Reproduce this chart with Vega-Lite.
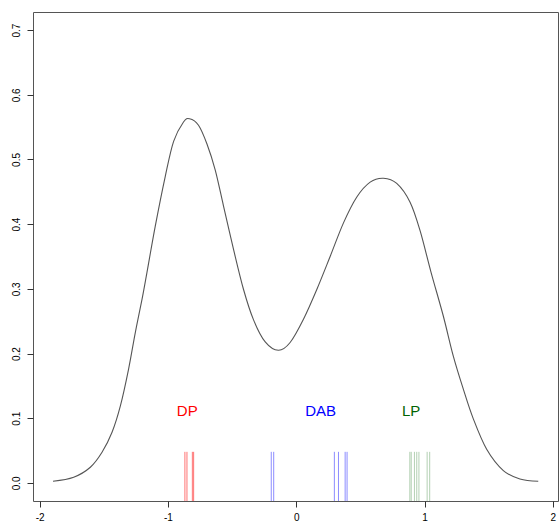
{
  "$schema": "https://vega.github.io/schema/vega-lite/v6.json",
  "width": 525,
  "height": 489,
  "autosize": {"type": "none"},
  "padding": {"left": 33, "top": 12, "right": 2, "bottom": 24},
  "background": "white",
  "config": {
    "view": {"stroke": "#555", "strokeWidth": 1},
    "font": "Liberation Sans"
  },
  "datasets": {
    "curve": [
      {"x": -1.896, "y": 0.0026}, {"x": -1.735, "y": 0.0088}, {"x": -1.605, "y": 0.0242},
      {"x": -1.514, "y": 0.0473}, {"x": -1.436, "y": 0.0782}, {"x": -1.371, "y": 0.119},
      {"x": -1.307, "y": 0.176}, {"x": -1.255, "y": 0.232}, {"x": -1.202, "y": 0.284},
      {"x": -1.164, "y": 0.325}, {"x": -1.099, "y": 0.397}, {"x": -1.021, "y": 0.474},
      {"x": -0.956, "y": 0.528}, {"x": -0.879, "y": 0.558}, {"x": -0.832, "y": 0.563},
      {"x": -0.762, "y": 0.553}, {"x": -0.696, "y": 0.524}, {"x": -0.632, "y": 0.484},
      {"x": -0.567, "y": 0.428}, {"x": -0.489, "y": 0.361}, {"x": -0.411, "y": 0.299},
      {"x": -0.333, "y": 0.252}, {"x": -0.242, "y": 0.218}, {"x": -0.139, "y": 0.205},
      {"x": -0.048, "y": 0.217}, {"x": 0.056, "y": 0.253}, {"x": 0.16, "y": 0.299},
      {"x": 0.264, "y": 0.35}, {"x": 0.368, "y": 0.402}, {"x": 0.472, "y": 0.442},
      {"x": 0.576, "y": 0.465}, {"x": 0.679, "y": 0.471}, {"x": 0.783, "y": 0.463},
      {"x": 0.887, "y": 0.434}, {"x": 0.965, "y": 0.39}, {"x": 1.05, "y": 0.326},
      {"x": 1.146, "y": 0.258}, {"x": 1.224, "y": 0.196},
      {"x": 1.302, "y": 0.145}, {"x": 1.38, "y": 0.099}, {"x": 1.484, "y": 0.052},
      {"x": 1.614, "y": 0.019}, {"x": 1.743, "y": 0.006}, {"x": 1.886, "y": 0.0026}
    ],
    "rug": [
      {"x": -0.868, "group": "DP"}, {"x": -0.852, "group": "DP"}, {"x": -0.81, "group": "DP"}, {"x": -0.8, "group": "DP"},
      {"x": -0.195, "group": "DAB"}, {"x": -0.176, "group": "DAB"}, {"x": 0.297, "group": "DAB"}, {"x": 0.329, "group": "DAB"},
      {"x": 0.381, "group": "DAB"}, {"x": 0.396, "group": "DAB"},
      {"x": 0.885, "group": "LP"}, {"x": 0.896, "group": "LP"}, {"x": 0.921, "group": "LP"}, {"x": 0.939, "group": "LP"},
      {"x": 0.956, "group": "LP"}, {"x": 1.02, "group": "LP"}, {"x": 1.04, "group": "LP"}
    ],
    "labels": [
      {"x": -0.85, "y": 0.111, "group": "DP"},
      {"x": 0.19, "y": 0.111, "group": "DAB"},
      {"x": 0.895, "y": 0.111, "group": "LP"}
    ]
  },
  "layer": [
    {
      "mark": {"type": "rule", "color": "#eeeeee", "strokeWidth": 1},
      "encoding": {"y": {"datum": 0, "type": "quantitative", "scale": {"domain": [-0.028, 0.728], "nice": false, "zero": false}}}
    },
    {
      "data": {"name": "rug"},
      "mark": {"type": "rule", "strokeWidth": 1},
      "encoding": {
        "x": {"field": "x", "type": "quantitative"},
        "y": {"datum": -0.028, "type": "quantitative"},
        "y2": {"datum": 0.048},
        "color": {"field": "group", "type": "nominal", "legend": null,
          "scale": {"domain": ["DP", "DAB", "LP"], "range": ["rgba(255,0,0,0.55)", "rgba(0,0,255,0.45)", "rgba(0,100,0,0.3)"]}}
      }
    },
    {
      "data": {"name": "curve"},
      "mark": {"type": "line", "color": "#555555", "strokeWidth": 1.1, "interpolate": "cardinal"},
      "encoding": {
        "x": {"field": "x", "type": "quantitative",
          "scale": {"domain": [-2.052, 2.04], "nice": false, "zero": false},
          "axis": {"title": null, "values": [-2, -1, 0, 1, 2], "domain": false, "tickColor": "#333", "tickSize": 6,
            "labelColor": "#000", "labelFontSize": 10, "labelPadding": 5, "grid": false,
            "labelExpr": "datum.value + ''"}},
        "y": {"field": "y", "type": "quantitative",
          "scale": {"domain": [-0.028, 0.728], "nice": false, "zero": false},
          "axis": {"title": null, "values": [0, 0.1, 0.2, 0.3, 0.4, 0.5, 0.6, 0.7], "format": ".1f", "domain": false,
            "tickColor": "#333", "tickSize": 6, "labelColor": "#000", "labelFontSize": 10, "labelAngle": -90,
            "labelAlign": "center", "labelBaseline": "bottom", "labelPadding": 6, "grid": false}}
      }
    },
    {
      "data": {"name": "labels"},
      "mark": {"type": "text", "fontSize": 15, "align": "center", "baseline": "middle"},
      "encoding": {
        "x": {"field": "x", "type": "quantitative"},
        "y": {"field": "y", "type": "quantitative"},
        "text": {"field": "group"},
        "color": {"field": "group", "type": "nominal", "legend": null,
          "scale": {"domain": ["DP", "DAB", "LP"], "range": ["#ff0000", "#0000ff", "#006400"]}}
      }
    }
  ],
  "resolve": {"scale": {"color": "independent"}}
}
